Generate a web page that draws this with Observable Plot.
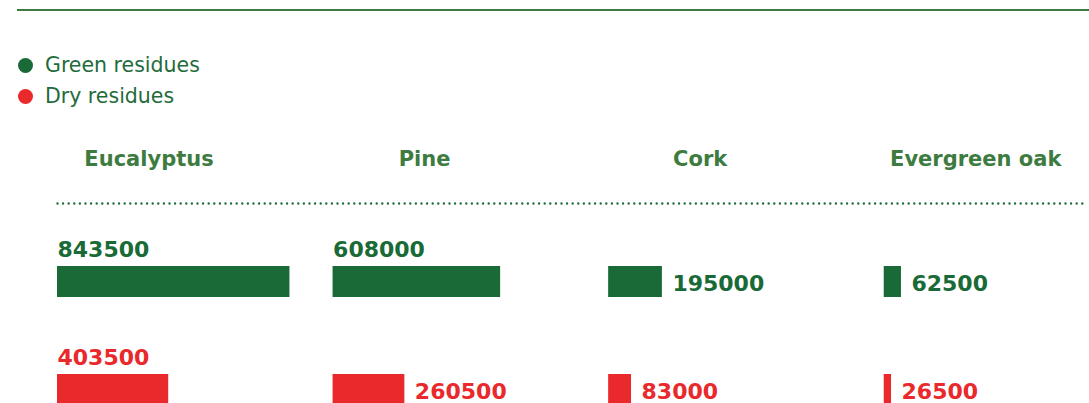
<!DOCTYPE html>
<html>
<head>
<meta charset="utf-8">
<script src="https://cdn.jsdelivr.net/npm/d3@7"></script>
<script src="https://cdn.jsdelivr.net/npm/@observablehq/plot@0.6"></script>
<style>
  html, body { margin: 0; padding: 0; background: #fff; overflow: hidden; }
  body { width: 1089px; height: 403px; font-family: "DejaVu Sans", sans-serif; }
  #head { position: relative; height: 120px; }
  #topline { position: absolute; left: 17px; right: 0; top: 9px; border-top: 2px solid #3f7a43; }
  #legend { position: absolute; left: 18px; top: 49.5px; }
  .item { display: flex; align-items: center; height: 31px; font-size: 20.5px; color: #1f6b3b; }
  .dot { width: 15px; height: 15px; border-radius: 50%; margin-right: 12px; flex: none; }
  #chart svg { display: block; }
</style>
</head>
<body>
<div id="head">
  <div id="topline"></div>
  <div id="legend"></div>
</div>
<div id="chart"></div>
<script>
// ---- data ----
const species = ["Eucalyptus", "Pine", "Cork", "Evergreen oak"];
const series = ["Green residues", "Dry residues"];
const greenResidues = [843500, 608000, 195000, 62500];
const dryResidues = [403500, 260500, 83000, 26500];
const seriesColors = ["#196a37", "#e9292c"];

// ---- layout helpers (data units of the x scale) ----
const STEP = 1000000;       // distance between column starts
const HEAD_OFF = 332000;    // header centre relative to column start
const ABOVE_MIN = 300000;   // values at least this large get their label above the bar

const rows = [];
series.forEach((s, si) => {
  const vals = si === 0 ? greenResidues : dryResidues;
  species.forEach((sp, i) => {
    rows.push({species: sp, series: s, value: vals[i], x1: i * STEP, x2: i * STEP + vals[i]});
  });
});
const headers = species.map((sp, i) => ({species: sp, x: i * STEP + HEAD_OFF}));

// ---- legend (HTML, above the SVG) ----
const legend = document.getElementById("legend");
series.forEach((s, i) => {
  const it = document.createElement("div");
  it.className = "item";
  const dot = document.createElement("span");
  dot.className = "dot";
  dot.style.background = seriesColors[i];
  const t = document.createElement("span");
  t.textContent = s;
  it.appendChild(dot); it.appendChild(t);
  legend.appendChild(it);
});

// ---- chart ----
const DOTS = "0,5.6";
const chart = Plot.plot({
  width: 1089,
  height: 350,
  marginTop: 83,
  marginBottom: 2,
  marginLeft: 57,
  marginRight: 3,
  style: {fontFamily: "DejaVu Sans, sans-serif", background: "transparent"},
  x: {domain: [0, 3734000], axis: null},
  y: {domain: series, axis: null, paddingInner: 0.713, paddingOuter: 0.583},
  color: {domain: series, range: seriesColors},
  marks: [
    Plot.frame({anchor: "top", stroke: "#1d6b39", strokeWidth: 2.4, strokeDasharray: DOTS, strokeLinecap: "round"}),
    Plot.text(headers, {
      x: "x", text: "species", frameAnchor: "top", lineAnchor: "bottom", dy: -37.5,
      fontSize: 21, fontWeight: "bold", fill: "#3d7b40", textAnchor: "middle"
    }),
    Plot.barX(rows, {x1: "x1", x2: "x2", y: "series", fill: "series"}),
    Plot.text(rows.filter(d => d.value >= ABOVE_MIN), {
      x: "x1", y: "series", text: d => String(d.value), fill: "series",
      textAnchor: "start", lineAnchor: "bottom", dy: -25.5, fontSize: 22, fontWeight: "bold"
    }),
    Plot.text(rows.filter(d => d.value < ABOVE_MIN), {
      x: "x2", y: "series", text: d => String(d.value), fill: "series",
      textAnchor: "start", lineAnchor: "middle", dx: 10, dy: 2, fontSize: 22, fontWeight: "bold"
    })
  ]
});
// make sure the dotted pattern reaches the drawn separator line
d3.select(chart).selectAll('g[aria-label="frame"], g[aria-label="frame"] *')
  .attr("stroke-dasharray", DOTS).attr("stroke-width", 2.4)
  .attr("stroke-linecap", "round").attr("transform", null);
document.getElementById("chart").appendChild(chart);
</script>
</body>
</html>
